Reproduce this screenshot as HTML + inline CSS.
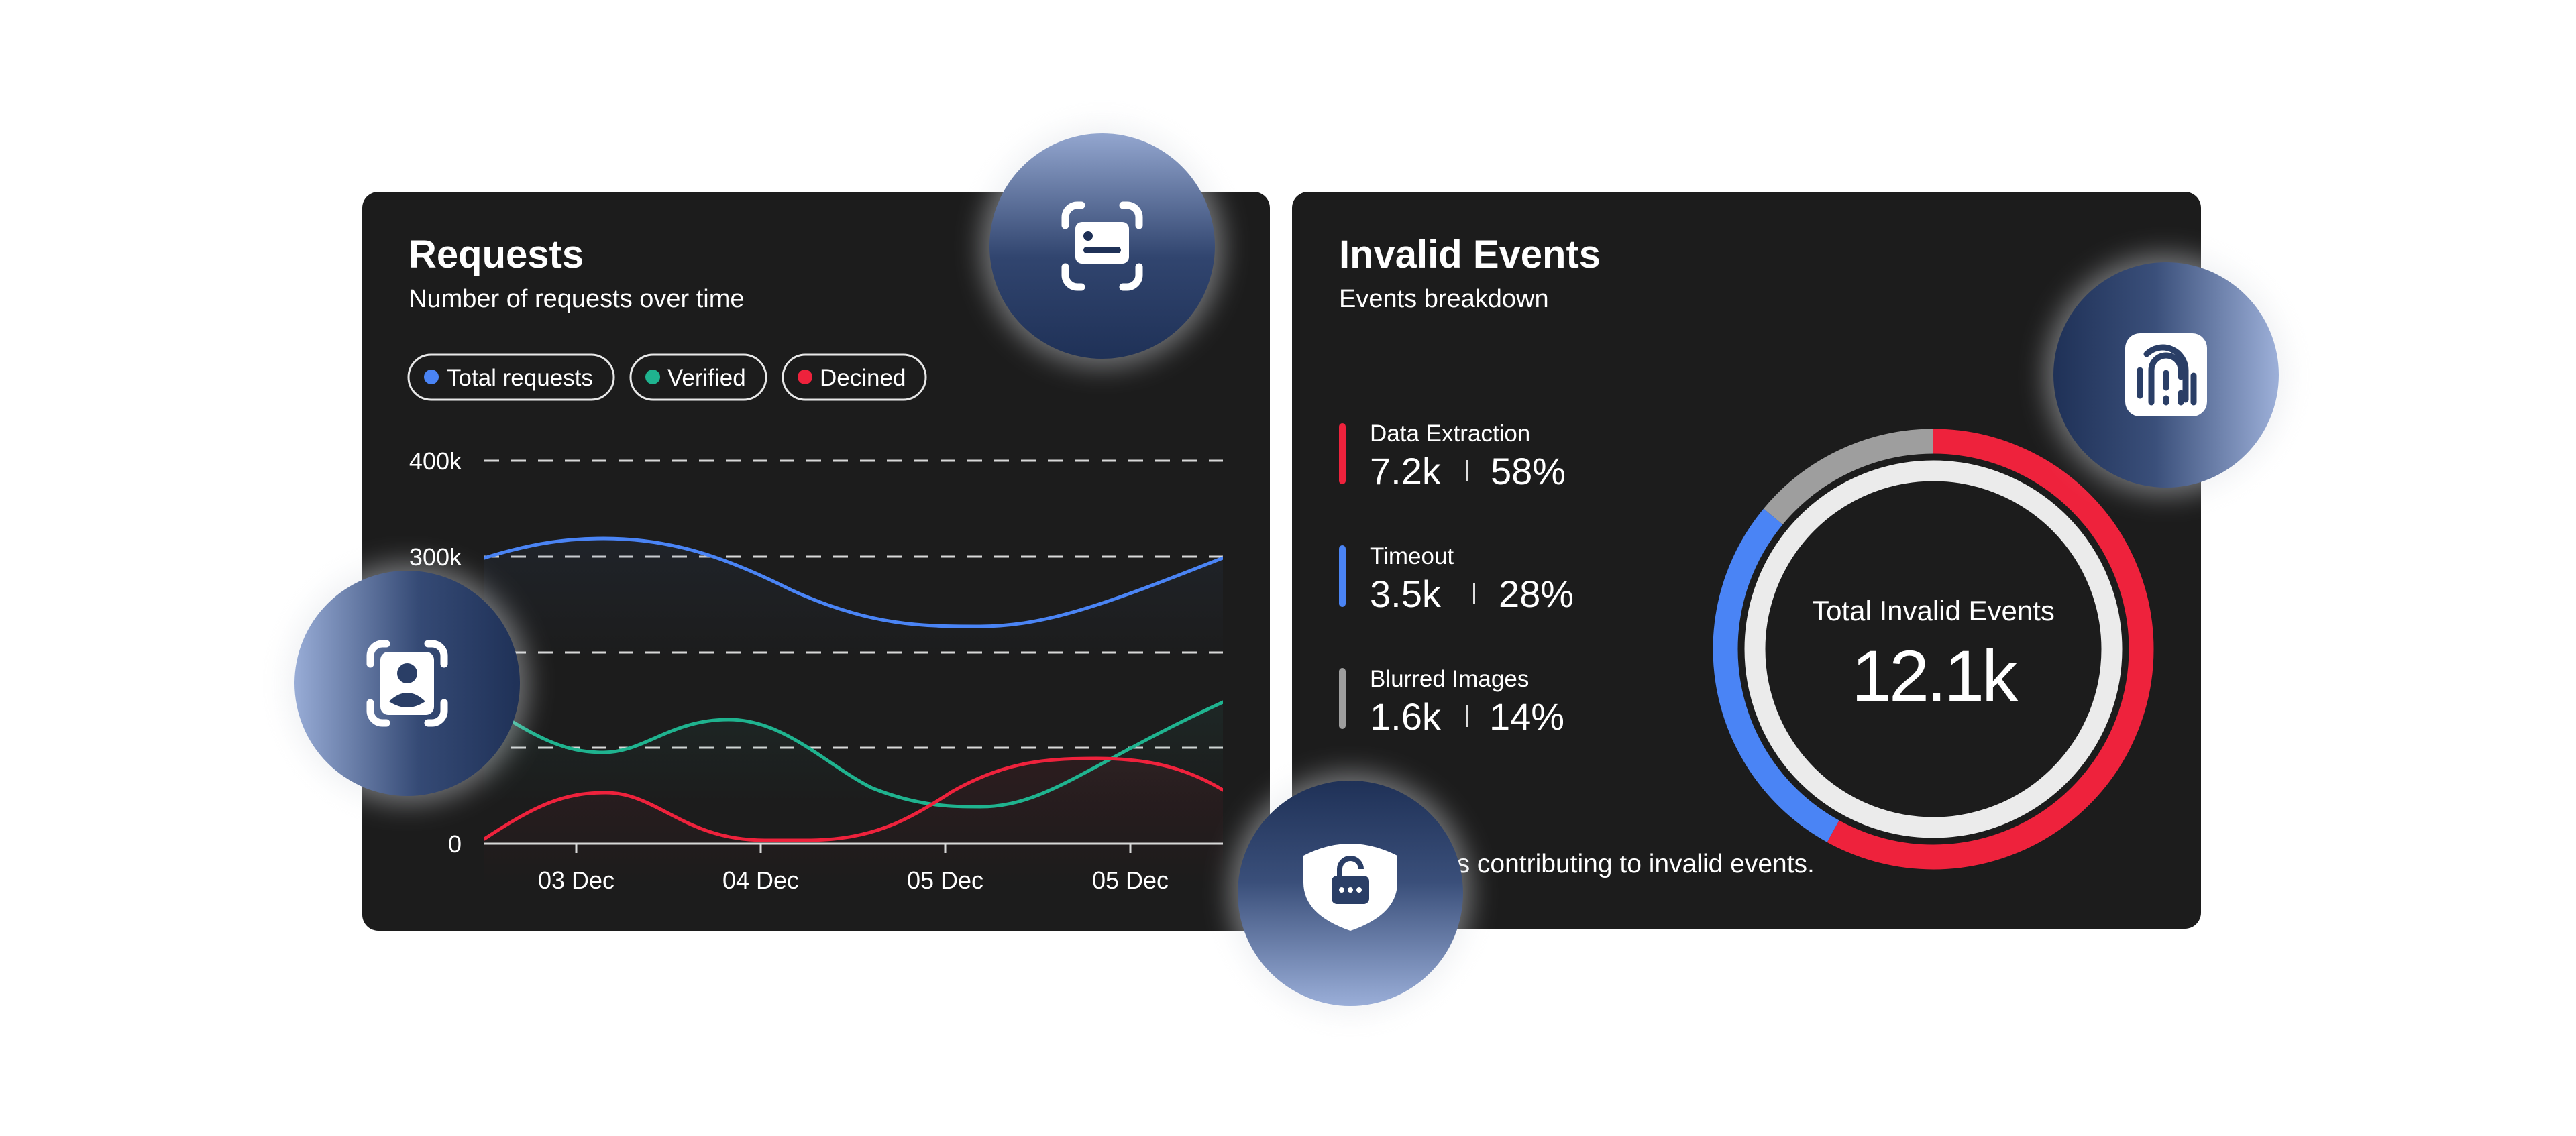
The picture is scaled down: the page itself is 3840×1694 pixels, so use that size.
<!DOCTYPE html>
<html><head><meta charset="utf-8"><style>
html,body{margin:0;padding:0;background:#fff;}
svg{display:block;}
text{font-family:"Liberation Sans",sans-serif;fill:#fff;}
</style></head><body>
<svg width="3840" height="1694" viewBox="0 0 3840 1694" xmlns="http://www.w3.org/2000/svg">
<defs>
<filter id="blur" x="-50%" y="-50%" width="200%" height="200%"><feGaussianBlur stdDeviation="20"/></filter>
<linearGradient id="gTop" x1="0" y1="0" x2="0" y2="1"><stop offset="0" stop-color="#93a6cf"/><stop offset="0.55" stop-color="#31456f"/><stop offset="1" stop-color="#1f3157"/></linearGradient>
<linearGradient id="gLeft" x1="0" y1="0" x2="1" y2="0"><stop offset="0" stop-color="#98acd6"/><stop offset="0.55" stop-color="#354a75"/><stop offset="1" stop-color="#1f3157"/></linearGradient>
<linearGradient id="gBot" x1="0" y1="0" x2="0" y2="1"><stop offset="0" stop-color="#1f3157"/><stop offset="0.45" stop-color="#3a4f7a"/><stop offset="1" stop-color="#9aaed8"/></linearGradient>
<linearGradient id="gRight" x1="0" y1="0" x2="1" y2="0"><stop offset="0" stop-color="#1f3157"/><stop offset="0.45" stop-color="#3a4f7a"/><stop offset="1" stop-color="#9db0d9"/></linearGradient>
<linearGradient id="aBlue" x1="0" y1="0" x2="0" y2="1"><stop offset="0" stop-color="#3a5a8a" stop-opacity="0.12"/><stop offset="0.4" stop-color="#3a5a8a" stop-opacity="0"/></linearGradient>
<linearGradient id="aGreen" x1="0" y1="0" x2="0" y2="1"><stop offset="0" stop-color="#2a8a7a" stop-opacity="0.1"/><stop offset="0.6" stop-color="#2a8a7a" stop-opacity="0"/></linearGradient>
<linearGradient id="aRed" x1="0" y1="0" x2="0" y2="1"><stop offset="0" stop-color="#a02030" stop-opacity="0.12"/><stop offset="1" stop-color="#a02030" stop-opacity="0"/></linearGradient>
<clipPath id="plot"><rect x="722" y="640" width="1101" height="690"/></clipPath>
</defs>

<rect x="540" y="286" width="1353" height="1102" rx="24" fill="#1c1c1c"/>
<rect x="1926" y="286" width="1355" height="1099" rx="24" fill="#1c1c1c"/>

<text x="609" y="399" font-size="58" font-weight="bold">Requests</text>
<text x="609" y="458" font-size="38">Number of requests over time</text>

<g fill="none" stroke="#e8e8e8" stroke-width="3">
<rect x="609" y="529" width="306" height="67" rx="33.5"/>
<rect x="940" y="529" width="202" height="67" rx="33.5"/>
<rect x="1167" y="529" width="213" height="67" rx="33.5"/>
</g>
<circle cx="643" cy="562" r="11" fill="#4a84f5"/>
<circle cx="973" cy="562" r="11" fill="#1fb38f"/>
<circle cx="1200" cy="562" r="11" fill="#ee223c"/>
<text x="666" y="575" font-size="35">Total requests</text>
<text x="995" y="575" font-size="35">Verified</text>
<text x="1222" y="575" font-size="35">Decined</text>

<g font-size="36" text-anchor="end">
<text x="688" y="700">400k</text>
<text x="688" y="843">300k</text>
<text x="688" y="1271">0</text>
</g>
<g stroke="#d8d8d8" stroke-width="3" stroke-dasharray="22 18">
<line x1="722" y1="687" x2="1823" y2="687"/>
<line x1="722" y1="830" x2="1823" y2="830"/>
<line x1="722" y1="973" x2="1823" y2="973"/>
<line x1="722" y1="1115" x2="1823" y2="1115"/>
</g>
<g clip-path="url(#plot)">
<path d="M722,832 C800,808 850,803 900,803 C1000,803 1080,830 1180,880 C1300,935 1380,934 1461,934 C1560,934 1650,900 1823,832 L1823,1258 L722,1258Z" fill="url(#aBlue)"/>
<path d="M722,1050 C800,1100 840,1122 900,1122 C960,1122 1000,1073 1086,1073 C1170,1073 1230,1140 1300,1175 C1370,1203 1420,1203 1461,1203 C1560,1203 1620,1140 1823,1047 L1823,1300 L722,1300Z" fill="url(#aGreen)"/>
<path d="M722,1251 C800,1200 840,1182 903,1182 C980,1182 1020,1253 1140,1253 L1200,1253 C1300,1253 1350,1225 1420,1180 C1500,1135 1560,1131 1635,1131 C1700,1131 1760,1140 1823,1178 L1823,1320 L722,1320Z" fill="url(#aRed)"/>
<g fill="none" stroke-width="5" stroke-linecap="round">
<path d="M722,832 C800,808 850,803 900,803 C1000,803 1080,830 1180,880 C1300,935 1380,934 1461,934 C1560,934 1650,900 1823,832" stroke="#4a84f5"/>
<path d="M722,1050 C800,1100 840,1122 900,1122 C960,1122 1000,1073 1086,1073 C1170,1073 1230,1140 1300,1175 C1370,1203 1420,1203 1461,1203 C1560,1203 1620,1140 1823,1047" stroke="#1fb38f"/>
<path d="M722,1251 C800,1200 840,1182 903,1182 C980,1182 1020,1253 1140,1253 L1200,1253 C1300,1253 1350,1225 1420,1180 C1500,1135 1560,1131 1635,1131 C1700,1131 1760,1140 1823,1178" stroke="#ee223c"/>
</g>
</g>
<line x1="722" y1="1258" x2="1823" y2="1258" stroke="#d8d8d8" stroke-width="3"/>
<g stroke="#d8d8d8" stroke-width="3">
<line x1="859" y1="1258" x2="859" y2="1272"/><line x1="1134" y1="1258" x2="1134" y2="1272"/>
<line x1="1409" y1="1258" x2="1409" y2="1272"/><line x1="1685" y1="1258" x2="1685" y2="1272"/>
</g>
<g font-size="36" text-anchor="middle">
<text x="859" y="1325">03 Dec</text><text x="1134" y="1325">04 Dec</text>
<text x="1409" y="1325">05 Dec</text><text x="1685" y="1325">05 Dec</text>
</g>

<text x="1996" y="399" font-size="58" font-weight="bold">Invalid Events</text>
<text x="1996" y="458" font-size="38">Events breakdown</text>
<rect x="1996" y="631" width="10" height="91" rx="5" fill="#ee223c"/>
<rect x="1996" y="813" width="10" height="92" rx="5" fill="#4a84f5"/>
<rect x="1996" y="996" width="10" height="91" rx="5" fill="#9e9e9e"/>
<text x="2042" y="658" font-size="35">Data Extraction</text>
<text x="2042" y="722" font-size="56">7.2k</text><rect x="2186" y="686" width="3" height="32" fill="#ddd"/><text x="2222" y="722" font-size="56">58%</text>
<text x="2042" y="841" font-size="35">Timeout</text>
<text x="2042" y="905" font-size="56">3.5k</text><rect x="2196" y="869" width="3" height="32" fill="#ddd"/><text x="2234" y="905" font-size="56">28%</text>
<text x="2042" y="1024" font-size="35">Blurred Images</text>
<text x="2042" y="1088" font-size="56">1.6k</text><rect x="2185" y="1052" width="3" height="32" fill="#ddd"/><text x="2220" y="1088" font-size="56">14%</text>
<text x="1996" y="1301" font-size="39">Key factors contributing to invalid events.</text>

<g transform="rotate(-90 2882 968)" fill="none" stroke-width="37">
<circle cx="2882" cy="968" r="310" stroke="#ee223c" stroke-dasharray="1129.7 2000"/>
<circle cx="2882" cy="968" r="310" stroke="#4a84f5" stroke-dasharray="0 1129.7 545.4 2000"/>
<circle cx="2882" cy="968" r="310" stroke="#9e9e9e" stroke-dasharray="0 1675.1 272.7 2000"/>
</g>
<circle cx="2882" cy="968" r="266" fill="none" stroke="#ebebeb" stroke-width="31"/>
<text x="2882" y="925" font-size="42" text-anchor="middle">Total Invalid Events</text>
<text x="2882" y="1045" font-size="108" text-anchor="middle" letter-spacing="-4">12.1k</text>

<g fill="#dfe2e7" opacity="0.45" filter="url(#blur)">
<circle cx="1643" cy="367" r="180"/><circle cx="607" cy="1019" r="180"/>
<circle cx="2013" cy="1332" r="180"/><circle cx="3229" cy="559" r="180"/>
</g>
<circle cx="1643" cy="367" r="168" fill="url(#gTop)"/>
<circle cx="607" cy="1019" r="168" fill="url(#gLeft)"/>
<circle cx="2013" cy="1332" r="168" fill="url(#gBot)"/>
<circle cx="3229" cy="559" r="168" fill="url(#gRight)"/>

<g fill="none" stroke="#fff" stroke-width="11" stroke-linecap="round">
<path d="M1588,336 v-12 a18,18 0 0 1 18,-18 h6"/><path d="M1674,306 h6 a18,18 0 0 1 18,18 v12"/>
<path d="M1588,398 v12 a18,18 0 0 0 18,18 h6"/><path d="M1674,428 h6 a18,18 0 0 0 18,-18 v-12"/>
</g>
<rect x="1603" y="331" width="80" height="62" rx="10" fill="#fff"/>
<circle cx="1622" cy="352" r="7" fill="#1f3157"/>
<rect x="1615" y="368" width="56" height="10" rx="5" fill="#1f3157"/>

<g fill="none" stroke="#fff" stroke-width="11" stroke-linecap="round">
<path d="M552,990 v-12 a18,18 0 0 1 18,-18 h6"/><path d="M638,960 h6 a18,18 0 0 1 18,18 v12"/>
<path d="M552,1048 v12 a18,18 0 0 0 18,18 h6"/><path d="M638,1078 h6 a18,18 0 0 0 18,-18 v-12"/>
</g>
<rect x="567" y="972" width="80" height="94" rx="12" fill="#fff"/>
<circle cx="607" cy="1004" r="15" fill="#2a3e66"/>
<path d="M580,1046 q27,-26 54,0 q-27,18 -54,0z" fill="#2a3e66"/>

<rect x="3168" y="497" width="122" height="124" rx="22" fill="#fff"/>
<g fill="none" stroke="#2a3e66" stroke-width="9" stroke-linecap="round">
<path d="M3190,590 v-38"/>
<path d="M3207,600 v-48 a22,22 0 0 1 44,0 v10"/>
<path d="M3200,528 a34,34 0 0 1 58,24 v44"/>
<path d="M3229,600 v-6"/><path d="M3229,578 v-22"/>
<path d="M3251,586 v14"/><path d="M3270,560 v40"/>
</g>

<path d="M1943,1276 q35,-18 70,-18 q35,0 70,18 v40 q0,48 -70,72 q-70,-24 -70,-72z" fill="#fff"/>
<rect x="1985" y="1306" width="56" height="42" rx="8" fill="#2a3e66"/>
<path d="M1997,1306 v-10 a16,16 0 0 1 32,0" fill="none" stroke="#2a3e66" stroke-width="8"/>
<g fill="#fff"><circle cx="2000" cy="1327" r="4"/><circle cx="2013" cy="1327" r="4"/><circle cx="2026" cy="1327" r="4"/></g>
</svg>
</body></html>
